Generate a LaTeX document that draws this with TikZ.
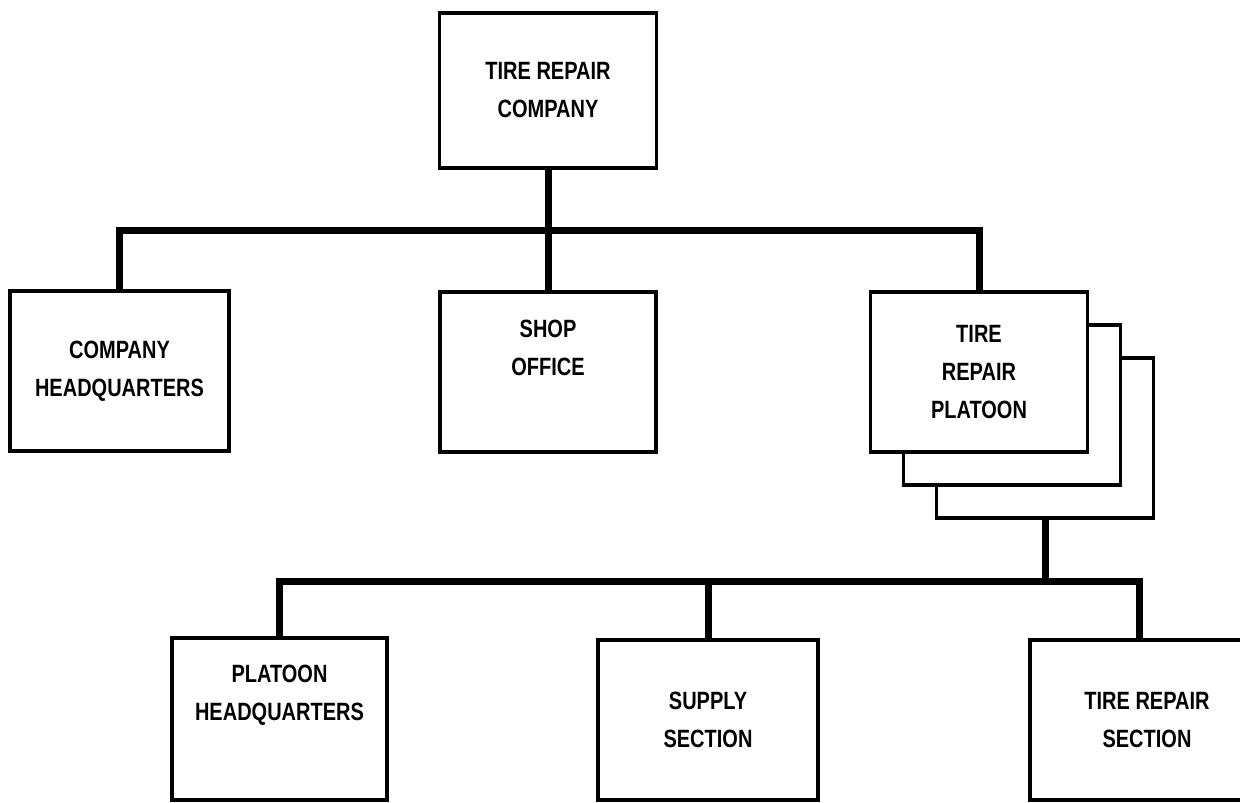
\documentclass[tikz,border=0pt]{standalone}
\usepackage{fontspec}
\setmainfont{Liberation Sans}[FakeStretch=0.8]
\usepackage{tikz}

\begin{document}
\begin{tikzpicture}[x=1pt, y=-1pt,
    unit/.style={draw, line width=3.5pt, fill=white, align=center,
      minimum width=217pt, minimum height=160pt, inner sep=0pt,
      font=\bfseries\fontsize{25}{38}\selectfont},
    bar/.style={line width=7pt}]
    \useasboundingbox (0, 0) rectangle (1240, 803);
    \node[unit, minimum height=155pt] (trc) at (548, 90.5) {TIRE REPAIR\\COMPANY};
    \node[unit, minimum width=219pt] (chq) at (119.5, 371) {COMPANY\\HEADQUARTERS};
    \node[unit, minimum width=216pt] (so) at (548, 372) {SHOP\\OFFICE\\[10pt]};
    \node[unit] (p3) at (1045, 438) {};
    \node[unit] (p2) at (1012, 405) {};
    \node[unit] (trp) at (979, 372) {TIRE\\REPAIR\\PLATOON};
    \node[unit, minimum width=215pt, minimum height=162pt] (phq) at (279.5, 719) {PLATOON\\HEADQUARTERS\\[14pt]};
    \node[unit, minimum width=220pt] (sup) at (708, 720) {SUPPLY\\SECTION};
    \node[unit, minimum width=234pt] (trs) at (1147, 720) {TIRE REPAIR\\SECTION};
    \coordinate (j) at (548, 230);
    \coordinate (k) at (1139, 581);
    \draw [bar] (trc) to (so);
    \draw [bar] (chq.north) |- (j) -| (trp.north);
    \draw [bar] (p3.south) to (p3.south |- k);
    \draw [bar] (phq.north) |- (k) to (trs.north -| k);
    \draw [bar] (sup.north) to (sup.north |- k);
  \end{tikzpicture}
\end{document}
